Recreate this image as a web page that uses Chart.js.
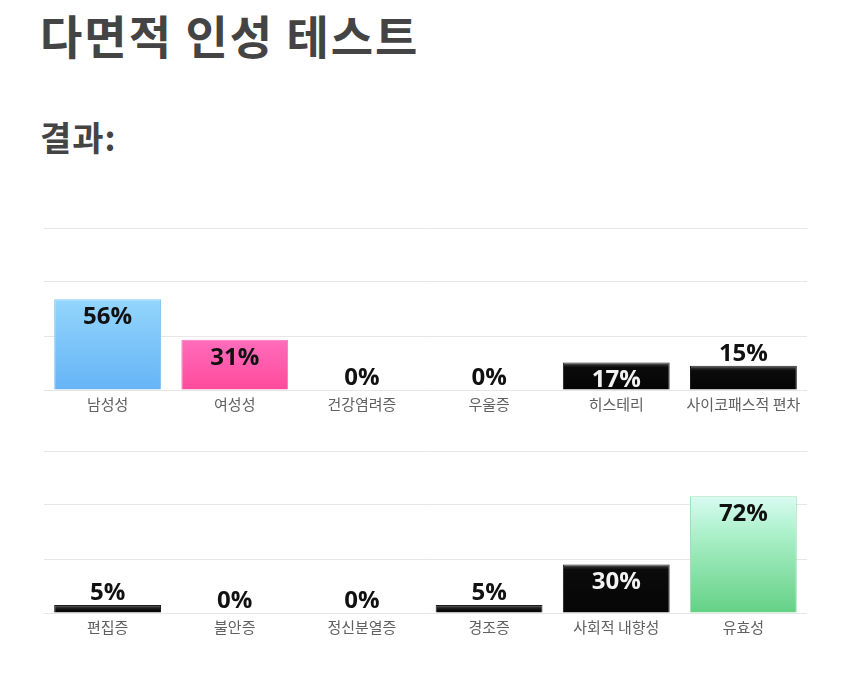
<!DOCTYPE html>
<html>
<head>
<meta charset="utf-8">
<script src="https://cdn.jsdelivr.net/npm/chart.js@4.4.1/dist/chart.umd.min.js"></script>
<style>
  html, body { margin: 0; padding: 0; background: #fff; width: 850px; height: 686px; overflow: hidden; }
  .t { position: absolute; left: 40px; font-family: "Noto Sans CJK KR", sans-serif; font-weight: 700; color: #444; line-height: 1; white-space: nowrap; }
  #title { top: 11px; font-size: 46px; letter-spacing: 2px; }
  #sub { top: 120px; font-size: 34px; letter-spacing: 1px; }
  .cw { position: absolute; left: 0; width: 850px; }
  #w1 { top: 200px; height: 230px; }
  #w2 { top: 430px; height: 223px; }
</style>
</head>
<body>
<div id="title" class="t">다면적 인성 테스트</div>
<div id="sub" class="t">결과:</div>
<div id="w1" class="cw"><canvas id="c1"></canvas></div>
<div id="w2" class="cw"><canvas id="c2"></canvas></div>
<script>
// ---- data ----
const categoriesTop = ['남성성', '여성성', '건강염려증', '우울증', '히스테리', '사이코패스적 편차'];
const valuesTop = [56, 31, 0, 0, 17, 15];
const categoriesBottom = ['편집증', '불안증', '정신분열증', '경조증', '사회적 내향성', '유효성'];
const valuesBottom = [5, 0, 0, 5, 30, 72];
const gridValues = [0, 100 / 3, 200 / 3, 100];

// ---- styles (not data) ----
const STY = {
  blue:  { stops: [[0, '#93d6fd'], [1, '#66b4f6']], border: '#86c8f2', text: '#111' },
  pink:  { stops: [[0, '#ff6cbb'], [1, '#ff4a9d']], border: '#f275b5', text: '#111' },
  black: { stops: 'black', border: '#1a1a1a', text: '#f2f2f2' },
  green: { stops: [[0, '#d8fbf2'], [0.3, '#aef1cc'], [1, '#64d184']], border: '#9fe0b8', text: '#111' }
};
const stylesTop = ['blue', 'pink', 'black', 'black', 'black', 'black'];
const stylesBottom = ['black', 'black', 'black', 'black', 'black', 'green'];

function makeBg(styles) {
  return function (ctx) {
    const chart = ctx.chart;
    const ys = chart.scales.y;
    if (!chart.chartArea || !ys) return '#000';
    const v = ctx.raw;
    const top = ys.getPixelForValue(v);
    const bot = ys.getPixelForValue(0);
    const h = Math.max(bot - top, 1);
    const s = STY[styles[ctx.dataIndex]];
    const g = chart.ctx.createLinearGradient(0, top, 0, bot);
    if (s.stops === 'black') {
      const f = Math.min(2.5 / h, 0.4);
      g.addColorStop(0, '#8a8a8a');
      g.addColorStop(f, '#2a2a2a');
      g.addColorStop(Math.min(f * 2, 0.8), '#0b0b0b');
      g.addColorStop(1, '#050505');
    } else {
      s.stops.forEach(([o, c]) => g.addColorStop(o, c));
    }
    return g;
  };
}

const labelPlugin = {
  id: 'valueLabels',
  afterDatasetsDraw(chart, args, opts) {
    const ctx = chart.ctx;
    const meta = chart.getDatasetMeta(0);
    const data = chart.data.datasets[0].data;
    ctx.save();
    ctx.font = 'bold 24px "Open Sans", "Noto Sans", sans-serif';
    ctx.textAlign = 'center';
    ctx.textBaseline = 'alphabetic';
    meta.data.forEach((el, i) => {
      const h = el.base - el.y;
      const inside = h > 26;
      const s = STY[opts.styles[i]];
      ctx.fillStyle = inside ? s.text : '#111';
      const y = inside ? el.y + 25 : el.y - 5;
      ctx.fillText(data[i] + '%', el.x, y);
    });
    ctx.restore();
  }
};

function build(id, cats, vals, styles, padTop) {
  return new Chart(document.getElementById(id), {
    type: 'bar',
    data: {
      labels: cats,
      datasets: [{
        data: vals,
        backgroundColor: makeBg(styles),
        borderColor: (c) => STY[styles[c.dataIndex]].border,
        borderWidth: 1,
        borderSkipped: 'bottom',
        categoryPercentage: 1,
        barPercentage: 0.84
      }]
    },
    options: {
      responsive: true,
      maintainAspectRatio: false,
      animation: false,
      layout: { padding: { top: padTop, left: 44, right: 43, bottom: 0 } },
      plugins: { legend: { display: false }, tooltip: { enabled: false }, valueLabels: { styles } },
      scales: {
        x: {
          grid: { display: false, drawTicks: false },
          border: { display: false },
          ticks: { color: '#606060', padding: 5, font: { size: 15, family: '"Noto Sans CJK KR", sans-serif' }, maxRotation: 0, autoSkip: false },
          afterFit(scale) { scale.height = 40; }
        },
        y: {
          min: 0, max: 100,
          afterBuildTicks(scale) { scale.ticks = gridValues.map(v => ({ value: v })); },
          ticks: { display: false },
          grid: { color: '#e6e6e6', lineWidth: 1, drawTicks: false },
          border: { display: false },
          afterFit(scale) { scale.width = 0; }
        }
      }
    },
    plugins: [labelPlugin]
  });
}

build('c1', categoriesTop, valuesTop, stylesTop, 28);
build('c2', categoriesBottom, valuesBottom, stylesBottom, 21);
</script>
</body>
</html>
